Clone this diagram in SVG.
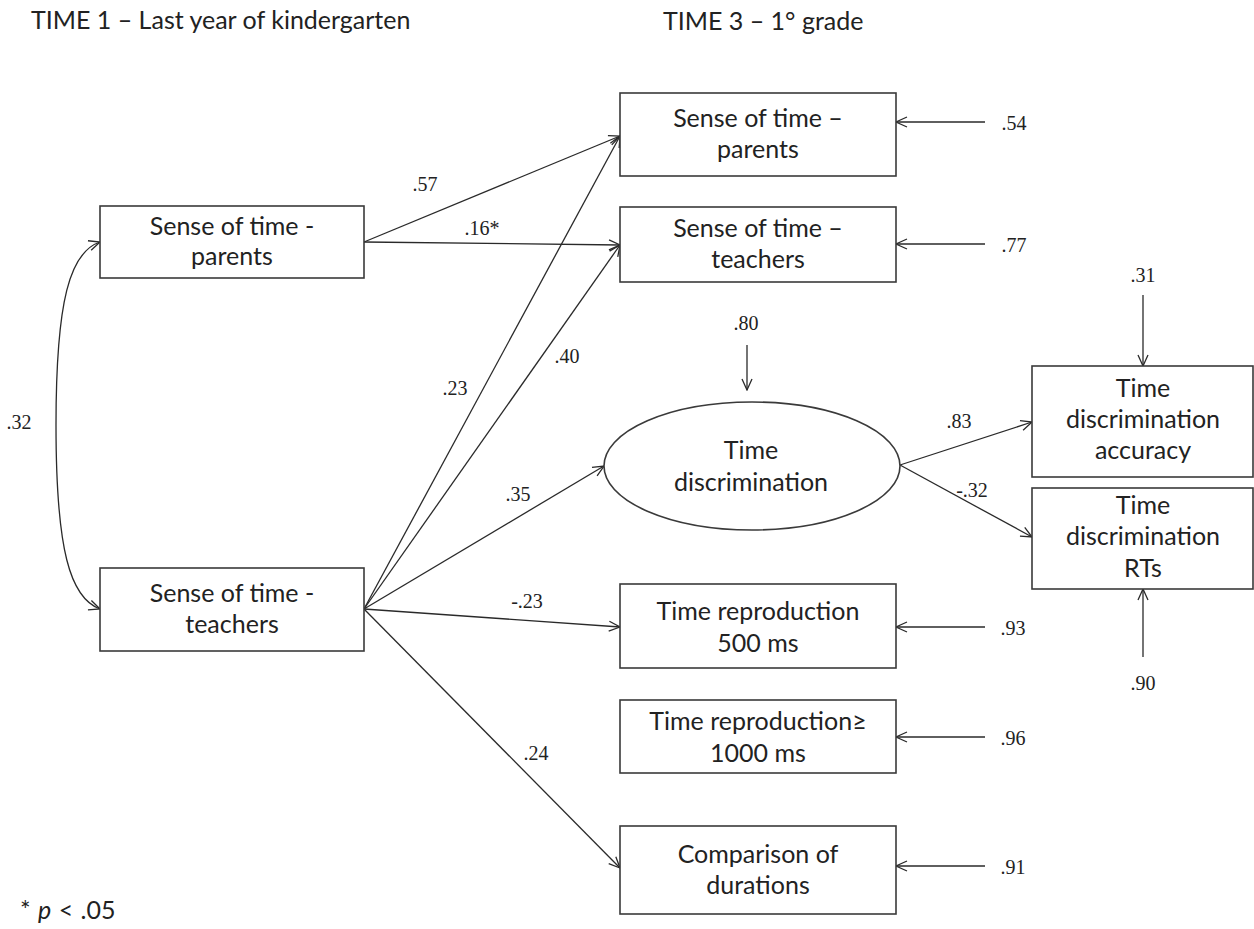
<svg xmlns="http://www.w3.org/2000/svg" width="1254" height="929" viewBox="0 0 1254 929">
<style>
.box{fill:#fff;stroke:#3a3a3a;stroke-width:1.6}
.lbl{font-family:Lato,"Liberation Sans",sans-serif;font-size:25px;fill:#222;text-anchor:middle}
.ttl{font-family:Lato,"Liberation Sans",sans-serif;font-size:25px;fill:#222}
.num{font-family:"Liberation Serif","Times New Roman",serif;font-size:20px;fill:#222;text-anchor:middle}
.cn{fill:none;stroke:#2a2a2a;stroke-width:1.3;marker-end:url(#ah)}
</style>
<defs>
<marker id="ah" markerUnits="userSpaceOnUse" markerWidth="14" markerHeight="14" viewBox="0 0 14 14" refX="13" refY="7" orient="auto-start-reverse">
<path d="M2,2 L13,7 L2,12" fill="none" stroke="#2a2a2a" stroke-width="1.3"/>
</marker>
</defs>
<rect width="1254" height="929" fill="#fff"/>
<text class="ttl" x="31" y="29">TIME 1 – Last year of kindergarten</text>
<text class="ttl" x="663" y="30">TIME 3 – 1° grade</text>

<g id="connectors">
<path class="cn" d="M100,242 C70,252 56,300 56,425 C56,550 70,598 100,609" style="marker-start:url(#ah)"/>
<line class="cn" x1="364" y1="242" x2="620" y2="136"/>
<line class="cn" x1="364" y1="242" x2="620" y2="245"/>
<line class="cn" x1="364" y1="609" x2="620" y2="136"/>
<line class="cn" x1="364" y1="609" x2="620" y2="245"/>
<line class="cn" x1="364" y1="609" x2="604" y2="466"/>
<line class="cn" x1="364" y1="609" x2="620" y2="627"/>
<line class="cn" x1="364" y1="609" x2="620" y2="868"/>
<line class="cn" x1="900" y1="465" x2="1032" y2="422"/>
<line class="cn" x1="900" y1="465" x2="1032" y2="537"/>
<line class="cn" x1="985" y1="122" x2="896" y2="122"/>
<line class="cn" x1="985" y1="244" x2="896" y2="244"/>
<line class="cn" x1="985" y1="627" x2="896" y2="627"/>
<line class="cn" x1="985" y1="737" x2="896" y2="737"/>
<line class="cn" x1="985" y1="866" x2="896" y2="866"/>
<line class="cn" x1="747" y1="345" x2="747" y2="390"/>
<line class="cn" x1="1143" y1="295" x2="1143" y2="366"/>
<line class="cn" x1="1143" y1="657" x2="1143" y2="589"/>
<text class="num" x="19" y="429">.32</text>
<text class="num" x="425" y="191">.57</text>
<text class="num" x="482" y="235">.16*</text>
<text class="num" x="455" y="395">.23</text>
<text class="num" x="567" y="363">.40</text>
<text class="num" x="518" y="501">.35</text>
<text class="num" x="527" y="608">-.23</text>
<text class="num" x="536" y="760">.24</text>
<text class="num" x="959" y="428">.83</text>
<text class="num" x="972" y="497">-.32</text>
<text class="num" x="1014" y="130">.54</text>
<text class="num" x="1014" y="252">.77</text>
<text class="num" x="1013" y="635">.93</text>
<text class="num" x="1013" y="745">.96</text>
<text class="num" x="1013" y="874">.91</text>
<text class="num" x="746" y="330">.80</text>
<text class="num" x="1143" y="282">.31</text>
<text class="num" x="1143" y="690">.90</text>
</g>

<g id="t1-parents">
<rect class="box" x="100" y="206" width="264" height="72"/>
<text class="lbl" x="232" y="235">Sense of time -</text>
<text class="lbl" x="232" y="265">parents</text>
</g>
<g id="t1-teachers">
<rect class="box" x="100" y="568" width="264" height="83"/>
<text class="lbl" x="232" y="602">Sense of time -</text>
<text class="lbl" x="232" y="633">teachers</text>
</g>
<g id="t3-parents">
<rect class="box" x="620" y="93" width="276" height="83"/>
<text class="lbl" x="758" y="127">Sense of time –</text>
<text class="lbl" x="758" y="158">parents</text>
</g>
<g id="t3-teachers">
<rect class="box" x="620" y="207" width="276" height="75"/>
<text class="lbl" x="758" y="237">Sense of time –</text>
<text class="lbl" x="758" y="268">teachers</text>
</g>
<g id="time-discrimination">
<ellipse class="box" cx="752" cy="466" rx="148" ry="64"/>
<text class="lbl" x="751" y="459">Time</text>
<text class="lbl" x="751" y="491">discrimination</text>
</g>
<g id="td-accuracy">
<rect class="box" x="1032" y="366" width="221" height="111"/>
<text class="lbl" x="1143" y="397">Time</text>
<text class="lbl" x="1143" y="428">discrimination</text>
<text class="lbl" x="1143" y="459">accuracy</text>
</g>
<g id="td-rts">
<rect class="box" x="1032" y="488" width="221" height="101"/>
<text class="lbl" x="1143" y="514">Time</text>
<text class="lbl" x="1143" y="545">discrimination</text>
<text class="lbl" x="1143" y="577">RTs</text>
</g>
<g id="tr-500">
<rect class="box" x="620" y="584" width="276" height="84"/>
<text class="lbl" x="758" y="620">Time reproduction</text>
<text class="lbl" x="758" y="652">500 ms</text>
</g>
<g id="tr-1000">
<rect class="box" x="620" y="700" width="276" height="73"/>
<text class="lbl" x="758" y="730">Time reproduction≥</text>
<text class="lbl" x="758" y="762">1000 ms</text>
</g>
<g id="comparison">
<rect class="box" x="620" y="826" width="276" height="88"/>
<text class="lbl" x="758" y="863">Comparison of</text>
<text class="lbl" x="758" y="894">durations</text>
</g>
<text class="ttl" x="20" y="919" font-size="27" word-spacing="1">* <tspan font-style="italic">p</tspan> &lt; .05</text>
</svg>
